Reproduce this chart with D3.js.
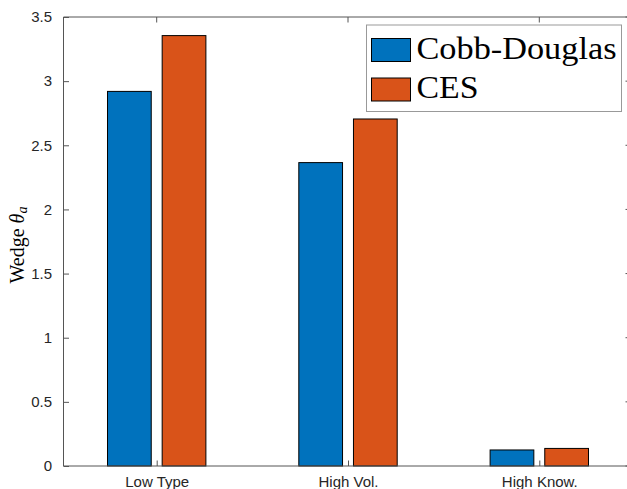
<!DOCTYPE html>
<html>
<head>
<meta charset="utf-8">
<script src="https://cdn.jsdelivr.net/npm/d3@7"></script>
<style>
  html, body { margin: 0; padding: 0; background: #fff; }
  svg { display: block; }
</style>
</head>
<body>
<script>
// Wedge by agent type under two production functions
const categories = ["Low Type", "High Vol.", "High Know."];
const seriesNames = ["Cobb-Douglas", "CES"];
const cobbDouglas = [2.92, 2.365, 0.125];
const ces = [3.355, 2.705, 0.137];
const yTicks = [0, 0.5, 1, 1.5, 2, 2.5, 3, 3.5];
const colors = ["#0072BD", "#D95319"];

const W = 627, H = 489;
const axLeft = 63.5, axRight = 631, axTop = 17, axBottom = 466;

const svg = d3.select("body").append("svg")
  .attr("width", W).attr("height", H);

// category positions (1..3) and bar layout in category units
const x = d3.scaleLinear().domain([1, 3]).range([156.7, 539.3]);
const y = d3.scaleLinear().domain([0, 3.5]).range([axBottom, axTop]);
const groupWidth = 2 / 3.5;
const barWidth = groupWidth / 2 * 0.8;
const offsets = [-groupWidth / 4, groupWidth / 4];
const unit = x(2) - x(1);

const series = [cobbDouglas, ces];
series.forEach((vals, si) => {
  svg.append("g").selectAll("rect")
    .data(vals)
    .join("rect")
    .attr("x", (d, i) => x(i + 1 + offsets[si]) - barWidth * unit / 2)
    .attr("width", barWidth * unit)
    .attr("y", d => y(d))
    .attr("height", d => y(0) - y(d))
    .attr("fill", colors[si])
    .attr("stroke", "#000")
    .attr("stroke-width", 1);
});

const axisColor = "#555";
const tickLen = 5.5;
const font = "'Liberation Sans', Arial, Helvetica, sans-serif";

// box lines (right edge sits just past the window)
const frame = svg.append("g").attr("stroke", axisColor).attr("stroke-width", 1).attr("fill", "none");
frame.append("line").attr("x1", axLeft).attr("x2", axRight).attr("y1", axBottom).attr("y2", axBottom);
frame.append("line").attr("x1", axLeft).attr("x2", axRight).attr("y1", axTop).attr("y2", axTop);
frame.append("line").attr("x1", axLeft).attr("x2", axLeft).attr("y1", axTop).attr("y2", axBottom);
frame.append("line").attr("x1", axRight).attr("x2", axRight).attr("y1", axTop).attr("y2", axBottom);

// y axis (ticks inward) with labels
const yAxis = d3.axisLeft(y).tickValues(yTicks).tickSizeInner(-tickLen).tickSizeOuter(0)
  .tickPadding(tickLen + 6).tickFormat(d3.format("~g"));
const gy = svg.append("g").attr("transform", `translate(${axLeft},0)`).call(yAxis);
gy.select(".domain").remove();
gy.selectAll(".tick line").attr("stroke", axisColor);
gy.selectAll(".tick text").attr("fill", "#262626").style("font-family", font).style("font-size", "15px");

// mirrored y ticks on the right
svg.append("g").selectAll("line").data(yTicks).join("line")
  .attr("x1", axRight).attr("x2", axRight - tickLen)
  .attr("y1", d => y(d)).attr("y2", d => y(d))
  .attr("stroke", axisColor);

// x axis with category labels
const xAxis = d3.axisBottom(x).tickValues([1, 2, 3]).tickSizeInner(-tickLen).tickSizeOuter(0)
  .tickPadding(tickLen + 5).tickFormat((d) => categories[d - 1]);
const gx = svg.append("g").attr("transform", `translate(0,${axBottom})`).call(xAxis);
gx.select(".domain").remove();
gx.selectAll(".tick line").attr("stroke", axisColor);
gx.selectAll(".tick text").attr("fill", "#262626").style("font-family", font).style("font-size", "15px");

// mirrored x ticks on top
svg.append("g").selectAll("line").data([1, 2, 3]).join("line")
  .attr("x1", d => x(d)).attr("x2", d => x(d))
  .attr("y1", axTop).attr("y2", axTop + tickLen)
  .attr("stroke", axisColor);

// y axis title
const serif = "'Liberation Serif', 'Times New Roman', serif";
const yl = svg.append("text")
  .attr("transform", `translate(24,245) rotate(-90)`)
  .attr("text-anchor", "middle")
  .style("font-family", serif).style("font-size", "20px").attr("fill", "#000");
yl.append("tspan").text("Wedge ");
yl.append("tspan").style("font-style", "italic").text("θ");
yl.append("tspan").style("font-style", "italic").style("font-size", "14px").attr("dy", 3).text("a");

// legend
const lg = svg.append("g");
lg.append("rect").attr("x", 366.5).attr("y", 25).attr("width", 255).attr("height", 86.5)
  .attr("fill", "#fff").attr("stroke", "#999").attr("stroke-width", 1);
const rowY = [50, 89.5];
const textLens = [200, 62];
seriesNames.forEach((name, i) => {
  lg.append("rect").attr("x", 371.5).attr("y", rowY[i] - 11.5).attr("width", 39).attr("height", 23)
    .attr("fill", colors[i]).attr("stroke", "#000").attr("stroke-width", 1);
  lg.append("text").attr("x", 416.5).attr("y", rowY[i] + 8.5)
    .attr("textLength", textLens[i]).attr("lengthAdjust", "spacingAndGlyphs")
    .style("font-family", serif).style("font-size", "32px").attr("fill", "#000")
    .text(name);
});
</script>
</body>
</html>
